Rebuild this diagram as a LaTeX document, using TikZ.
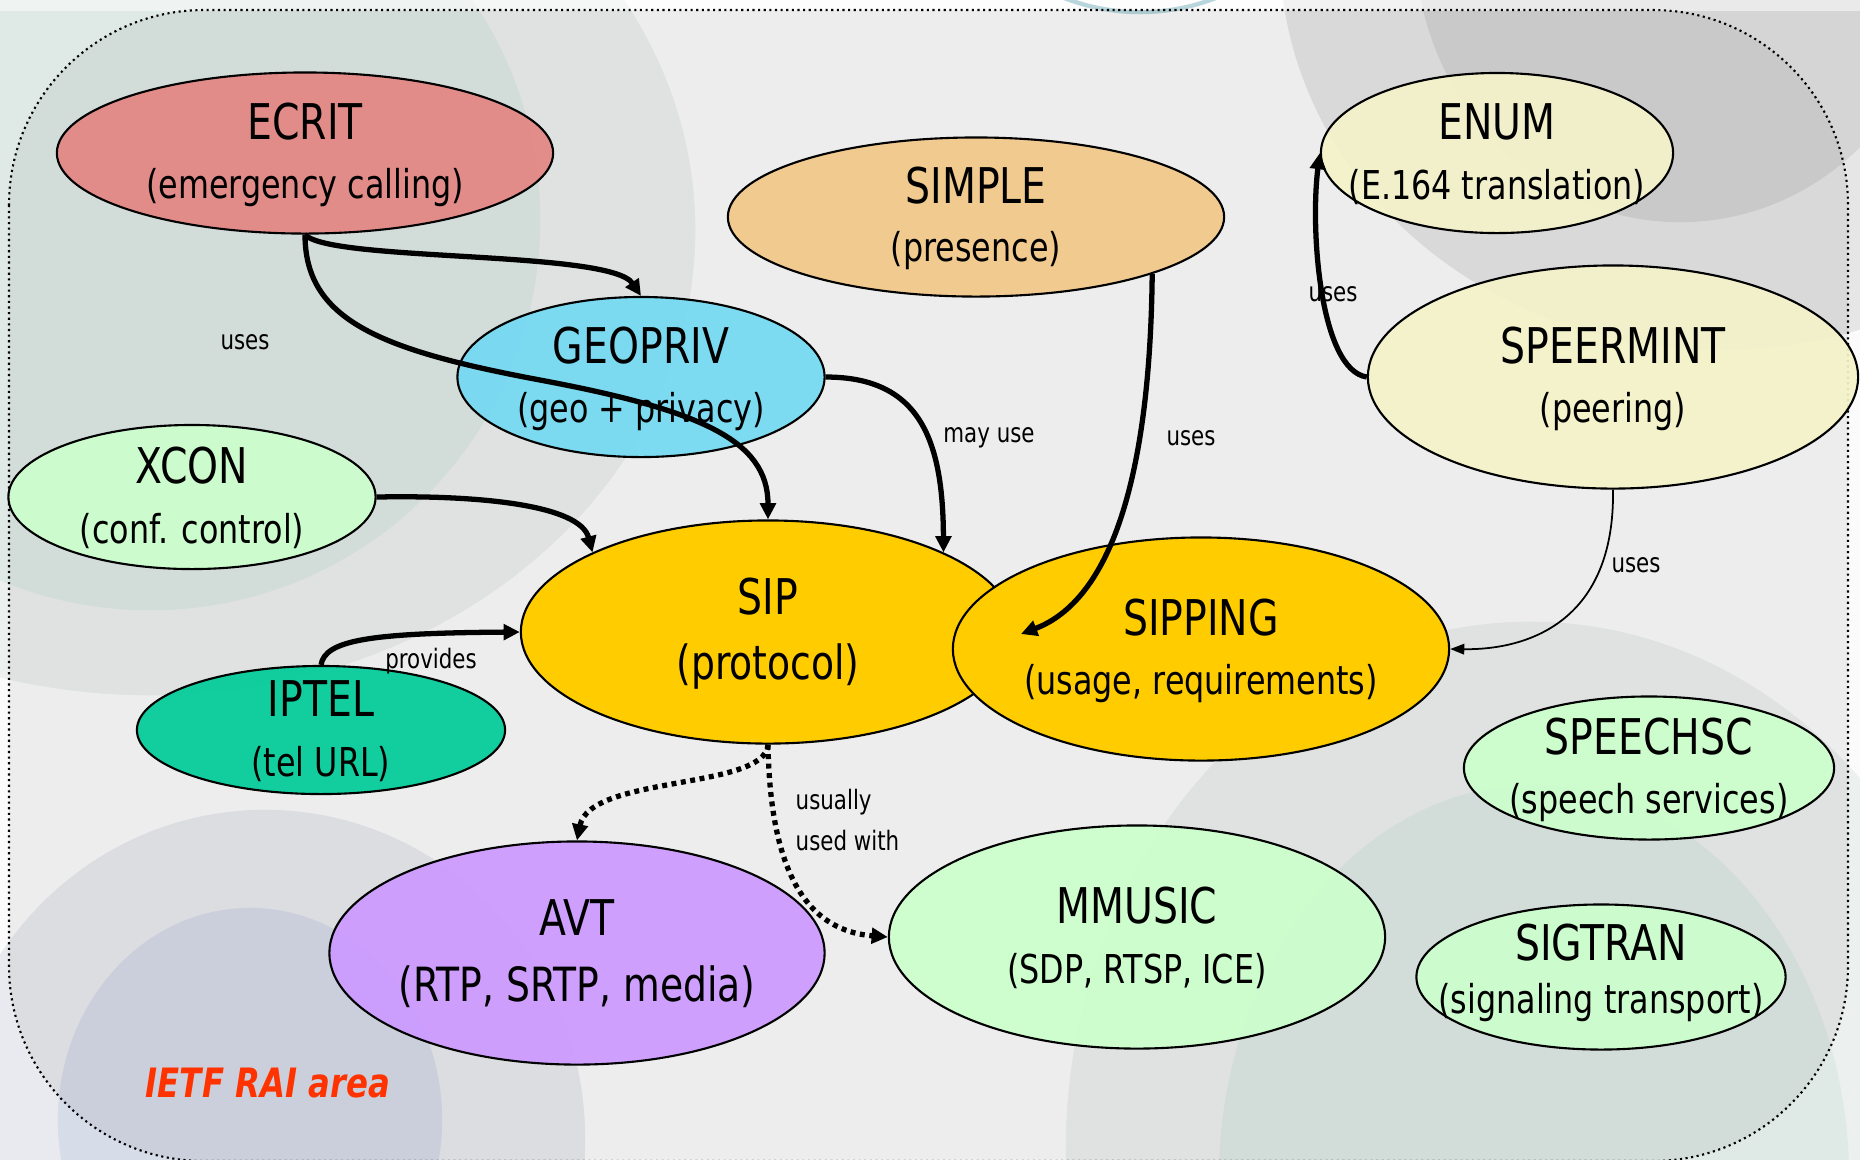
\documentclass[tikz,border=0pt]{standalone}
\usepackage{fontspec}
\setmainfont{DejaVu Sans}[FakeStretch=0.8]
\usetikzlibrary{arrows.meta,shapes.geometric}

% working group colours
\definecolor{ecritc}{HTML}{E48683}
\definecolor{simplec}{HTML}{F2C887}
\definecolor{enumc}{HTML}{F4F3C9}
\definecolor{geoc}{HTML}{73D9F2}
\definecolor{greenc}{HTML}{CCFFCC}
\definecolor{sipc}{HTML}{FFCC00}
\definecolor{iptelc}{HTML}{00CC99}
\definecolor{avtc}{HTML}{CC99FF}
\definecolor{raic}{HTML}{FF3300}
% backdrop
\definecolor{bgout}{HTML}{FBFBFB}
\definecolor{ringa}{HTML}{ECF0EF}
\definecolor{corea}{HTML}{DFE9E6}
\definecolor{ringb}{HTML}{E9EAEF}
\definecolor{coreb}{HTML}{D7DCE9}
\definecolor{ringd}{HTML}{E6E6E6}
\definecolor{cored}{HTML}{D5D5D5}
\definecolor{arcc}{HTML}{B8D6DC}

\begin{document}
\begin{tikzpicture}[x=0.01cm, y=-0.01cm,
    wg/.style={ellipse, draw, line width=0.6pt, fill opacity=0.92, inner sep=0pt},
    ttl/.style={fill opacity=1, font=\fontsize{14}{16}\selectfont, yshift=0.31cm},
    sub/.style={fill opacity=1, font=\fontsize{11.3}{13}\selectfont, yshift=-0.34cm},
    pair/.style 2 args={label={[ttl]center:#1}, label={[sub]center:#2}},
    bigpair/.style 2 args={label={[ttl, yshift=0.04cm]center:#1},
                           label={[sub, font=\fontsize{13.4}{15}\selectfont, yshift=0.0cm]center:#2}},
    link/.style={-{Triangle[length=4.6pt, width=4.4pt]}, line width=1.5pt},
    dotlink/.style={link, dash pattern=on 1.4pt off 1.3pt},
    thinlink/.style={-{Triangle[length=4pt, width=3pt]}, line width=0.5pt},
    lbl/.style={font=\fontsize{7.6}{11.7}\selectfont, inner sep=0pt}]

  \useasboundingbox (0,0) rectangle (1860,1159);
  \clip (0,0) rectangle (1860,1159);

  % backdrop discs
  \fill[bgout] (0,0) rectangle (1860,1159);
  \fill[ringa] (150,230) ellipse [x radius=5.45cm, y radius=4.65cm];
  \fill[corea] (150,220) ellipse [x radius=3.9cm, y radius=3.9cm];
  \fill[ringb] (265,1140) ellipse [x radius=3.2cm, y radius=3.3cm];
  \fill[coreb] (250,1120) ellipse [x radius=1.92cm, y radius=2.12cm];
  \fill[ringa] (1530,1150) ellipse [x radius=4.64cm, y radius=5.28cm];
  \fill[corea] (1534,1180) ellipse [x radius=3.15cm, y radius=3.95cm];
  \fill[ringd] (1720,-50) ellipse [x radius=4.4cm, y radius=4cm];
  \fill[cored] (1680,-60) ellipse [x radius=2.65cm, y radius=2.82cm];
  \fill[white, opacity=0.5] (0,0) rectangle (1860,11);
  \draw[arcc, line width=1.2pt] (1140,-198) circle [radius=2.1cm];

  % area frame
  \fill[black, opacity=0.055, rounded corners=1.95cm] (9,10) rectangle (1848,1161);
  \draw[densely dotted, line width=0.6pt, rounded corners=1.95cm] (9,10) rectangle (1848,1161);

  % working groups
  \node[wg, fill=ecritc, minimum width=4.96cm, minimum height=1.61cm,
        pair={ECRIT}{(emergency calling)}] (ecrit) at (305,153) {};
  \node[wg, fill=simplec, minimum width=4.96cm, minimum height=1.59cm,
        pair={SIMPLE}{(presence)}] (simple) at (976,217) {};
  \node[wg, fill=enumc, minimum width=3.52cm, minimum height=1.60cm,
        pair={ENUM}{(E.164 translation)}] (enum) at (1497,153) {};
  \node[wg, fill=geoc, minimum width=3.67cm, minimum height=1.60cm,
        pair={GEOPRIV}{(geo + privacy)}] (geopriv) at (641,377) {};
  \node[wg, fill=enumc, minimum width=4.90cm, minimum height=2.23cm,
        pair={SPEERMINT}{(peering)}] (speermint) at (1613,377) {};
  \node[wg, fill=greenc, minimum width=3.67cm, minimum height=1.44cm,
        pair={XCON}{(conf. control)}] (xcon) at (192,497) {};
  \node[wg, fill=sipc, fill opacity=1, minimum width=4.94cm, minimum height=2.23cm,
        bigpair={SIP}{(protocol)}] (sip) at (768,632) {};
  \node[wg, fill=sipc, fill opacity=1, minimum width=4.96cm, minimum height=2.23cm,
        pair={SIPPING}{(usage, requirements)}] (sipping) at (1201,649) {};
  \node[wg, fill=iptelc, minimum width=3.68cm, minimum height=1.28cm,
        pair={IPTEL}{(tel URL)}] (iptel) at (321,730) {};
  \node[wg, fill=greenc, minimum width=3.70cm, minimum height=1.43cm,
        pair={SPEECHSC}{(speech services)}] (speechsc) at (1649,768) {};
  \node[wg, fill=avtc, minimum width=4.95cm, minimum height=2.23cm,
        bigpair={AVT}{(RTP, SRTP, media)}] (avt) at (577,953) {};
  \node[wg, fill=greenc, minimum width=4.96cm, minimum height=2.23cm,
        pair={MMUSIC}{(SDP, RTSP, ICE)}] (mmusic) at (1137,937) {};
  \node[wg, fill=greenc, minimum width=3.69cm, minimum height=1.45cm,
        label={[ttl, yshift=0.03cm]center:SIGTRAN},
        label={[sub, yshift=0.09cm]center:(signaling transport)}] (sigtran) at (1601,977) {};

  \coordinate (simpleend) at (1021,634);

  % dependencies
  \draw[link] (ecrit.south) .. controls (330,262) and (610,250) .. (geopriv.north);
  \draw[link] (ecrit.south) .. controls (305,320) and (380,350) .. (540,380)
                            .. controls (700,410) and (768,440) .. (sip.north);
  \draw[link] (xcon.east) .. controls (480,495) and (580,505) .. (sip.north west);
  \draw[link] (geopriv.east) .. controls (920,377) and (943,440) .. (sip.north east);
  \draw[link] (simple.south east) .. controls (1150,480) and (1110,600) .. (simpleend);
  \draw[link] (speermint.west) .. controls (1320,370) and (1310,230) .. (enum.west);
  \draw[thinlink] (speermint.south) .. controls (1615,620) and (1530,650) .. (sipping.east);
  \draw[link] (iptel.north) .. controls (325,640) and (370,633) .. (sip.west);
  \draw[dotlink] (sip.south) .. controls (765,790) and (590,775) .. (avt.north);
  \draw[dotlink] (sip.south) .. controls (770,860) and (800,930) .. (mmusic.west);

  % edge labels
  \node[lbl] (usesa) at (245,342) {uses};
  \node[lbl] (mayuse) at (989,438) {may use};
  \node[lbl] (usesb) at (1191,438) {uses};
  \node[lbl] (usesc) at (1333,294) {uses};
  \node[lbl] (usesd) at (1636,565) {uses};
  \node[lbl] (provides) at (431,661) {provides};
  \node[lbl, anchor=west, align=left] (usually) at (795,820) {usually\\used with};

  \node[raic, font=\fontsize{11.5}{13}\selectfont\bfseries\itshape] (rai) at (268,1083) {IETF RAI area};
\end{tikzpicture}
\end{document}
